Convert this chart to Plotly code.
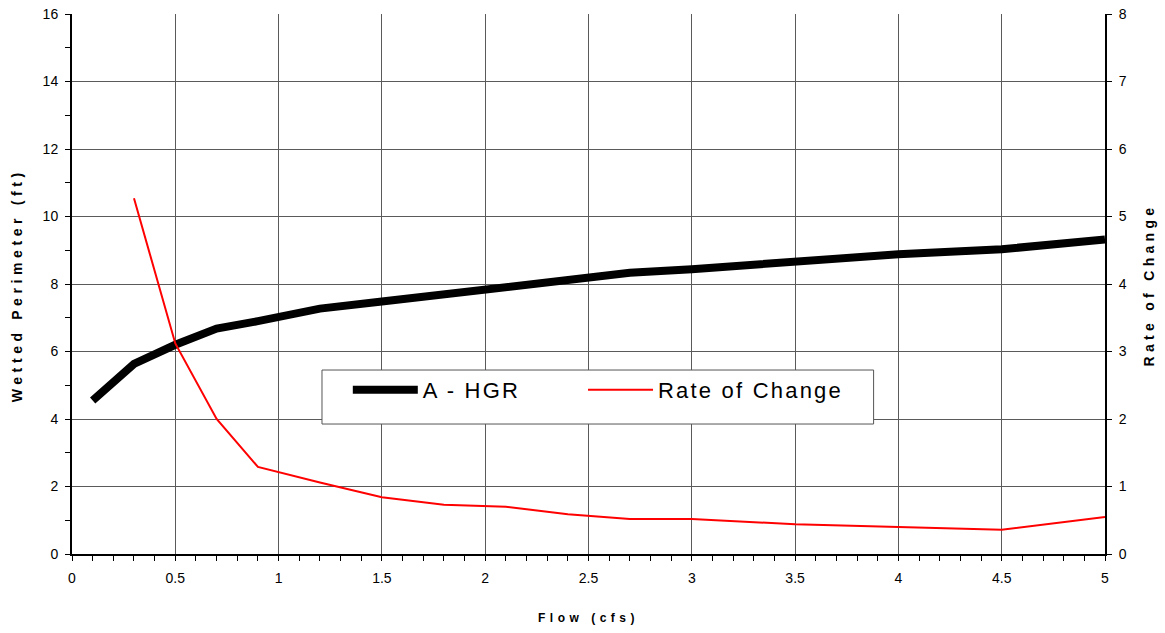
import plotly.graph_objects as go

flow_hgr = [0.1, 0.3, 0.5, 0.7, 0.9, 1.2, 1.5, 1.8, 2.1, 2.4, 2.7, 3.0, 3.5, 4.0, 4.5, 5.0]
wetted_perimeter = [4.55, 5.63, 6.2, 6.68, 6.9, 7.27, 7.48, 7.68, 7.92, 8.08, 8.33, 8.44, 8.67, 8.88, 9.03, 9.32]

flow_rate = [0.3, 0.5, 0.7, 0.9, 1.2, 1.5, 1.8, 2.1, 2.4, 2.7, 3.0, 3.5, 4.0, 4.5, 5.0]
rate_of_change = [5.27, 3.12, 2.0, 1.29, 1.06, 0.84, 0.73, 0.70, 0.59, 0.52, 0.52, 0.44, 0.40, 0.36, 0.55]

FONT = "Liberation Sans, Arial, sans-serif"

def spaced(t, px):
    return f'<span style="letter-spacing:{px}px">{t}</span>'

fig = go.Figure()
fig.add_trace(go.Scatter(x=flow_hgr, y=wetted_perimeter, mode="lines", name=spaced("A - HGR", 2.2),
                         line=dict(color="black", width=8), yaxis="y", legend="legend"))
fig.add_trace(go.Scatter(x=flow_rate, y=rate_of_change, mode="lines", name=spaced("Rate of Change", 2.2),
                         line=dict(color="#ff0000", width=2), yaxis="y2", legend="legend2"))

grid = "#5a5a5a"
leg_common = dict(orientation="h", yanchor="middle", xanchor="left", y=0.3037,
                  bgcolor="rgba(0,0,0,0)", borderwidth=0,
                  font=dict(size=22, family=FONT), itemwidth=65, valign="middle")
fig.update_layout(
    width=1165, height=633,
    margin=dict(l=72, r=60, t=14, b=79, autoexpand=False),
    plot_bgcolor="white", paper_bgcolor="white",
    font=dict(family=FONT, color="black", size=14),
    showlegend=True,
    legend=dict(x=0.267, **leg_common),
    legend2=dict(x=0.4947, **leg_common),
    xaxis=dict(range=[0, 5], dtick=0.5, tick0=0, showgrid=True, gridcolor=grid, gridwidth=1,
               showline=True, linecolor="black", linewidth=2, ticks="outside", ticklen=5,
               tickcolor="black", tickfont=dict(size=14), ticklabelstandoff=5, automargin=False,
               minor=dict(dtick=0.1, ticks="outside", ticklen=5, tickcolor="black", showgrid=False),
               zeroline=False),
    yaxis=dict(range=[0, 16], dtick=2, showgrid=True, gridcolor=grid, gridwidth=1,
               showline=True, linecolor="black", linewidth=2, ticks="outside", ticklen=5,
               tickcolor="black", tickfont=dict(size=14), ticklabelstandoff=4, automargin=False,
               minor=dict(dtick=1, ticks="outside", ticklen=5, tickcolor="black", showgrid=False),
               zeroline=False),
    yaxis2=dict(range=[0, 8], dtick=1, overlaying="y", side="right", showgrid=False,
                showline=True, linecolor="black", linewidth=2, ticks="outside", ticklen=5,
                tickcolor="black", tickfont=dict(size=14), ticklabelstandoff=4, automargin=False,
                zeroline=False),
    shapes=[
        dict(type="rect", xref="paper", yref="paper", x0=0.242, x1=0.776, y0=0.2407, y1=0.3407,
             fillcolor="white", line=dict(color="#555", width=1), layer="above"),
    ],
    annotations=[
        dict(text="<b>" + spaced("Flow (cfs)", 4.5) + "</b>", xref="paper", yref="paper",
             x=0.5, y=-0.118, xanchor="center", yanchor="middle", showarrow=False,
             font=dict(size=12, family=FONT)),
        dict(text="<b>" + spaced("Wetted Perimeter (ft)", 4.6) + "</b>", xref="paper", yref="paper",
             x=-0.053, y=0.498, xanchor="center", yanchor="middle", showarrow=False, textangle=-90,
             font=dict(size=14, family=FONT)),
        dict(text="<b>" + spaced("Rate of Change", 4.3) + "</b>", xref="paper", yref="paper",
             x=1.043, y=0.498, xanchor="center", yanchor="middle", showarrow=False, textangle=-90,
             font=dict(size=14, family=FONT)),
    ],
)

fig.write_html("out.html", config={"displayModeBar": False},
               post_script="document.body.style.margin='0';document.body.style.overflow='hidden';")
